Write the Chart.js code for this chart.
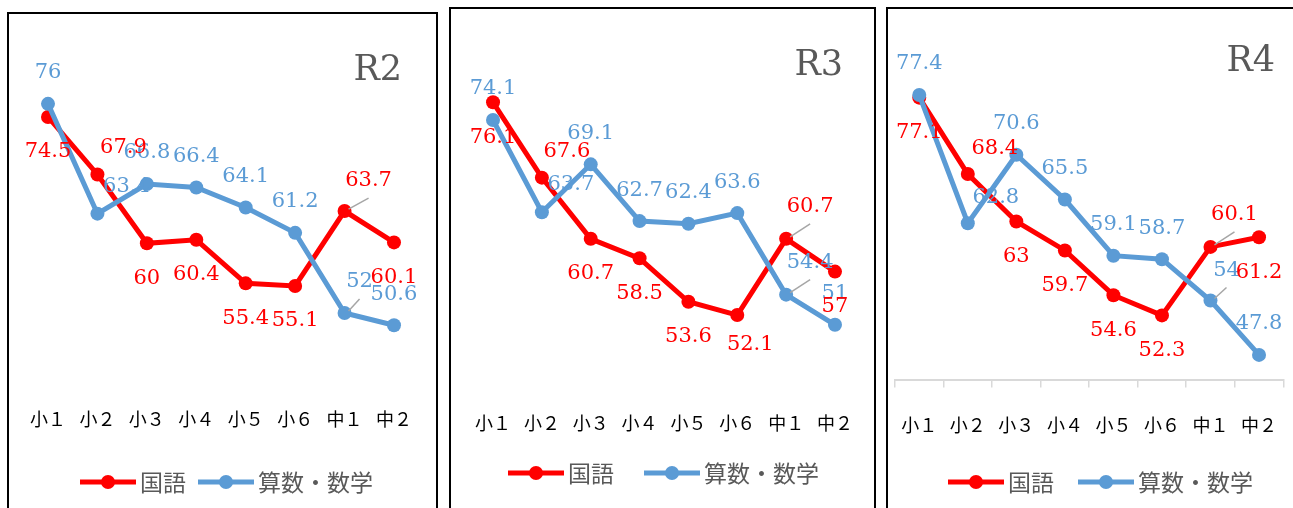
<!DOCTYPE html>
<html>
<head>
<meta charset="utf-8">
<script src="https://cdn.jsdelivr.net/npm/chart.js@4.4.1/dist/chart.umd.min.js"></script>
<style>
  html, body { margin: 0; padding: 0; background: #fff; width: 1293px; height: 508px; overflow: hidden; position: relative; }
  .panel { position: absolute; border: 2px solid #000; box-sizing: border-box; height: 620px; }
  canvas { position: absolute; }
</style>
</head>
<body>
<div class="panel" style="left:7px;top:12px;width:431px"></div>
<div class="panel" style="left:449px;top:7px;width:427px"></div>
<div class="panel" style="left:886px;top:7px;width:440px"></div>
<canvas id="chartR2" width="428" height="494" style="left:9px;top:14px"></canvas>
<canvas id="chartR3" width="423" height="499" style="left:451px;top:9px"></canvas>
<canvas id="chartR4" width="405" height="499" style="left:888px;top:9px"></canvas>
<script>
// grades and scores (R2 / R3 / R4)
const grades = ['小１', '小２', '小３', '小４', '小５', '小６', '中１', '中２'];
const seriesNames = ['国語', '算数・数学'];
const kokugoR2 = [74.5, 67.9, 60, 60.4, 55.4, 55.1, 63.7, 60.1];
const sansuR2 = [76, 63.4, 66.8, 66.4, 64.1, 61.2, 52, 50.6];
const kokugoR3 = [76.1, 67.6, 60.7, 58.5, 53.6, 52.1, 60.7, 57];
const sansuR3 = [74.1, 63.7, 69.1, 62.7, 62.4, 63.6, 54.4, 51];
const kokugoR4 = [77.1, 68.4, 63, 59.7, 54.6, 52.3, 60.1, 61.2];
const sansuR4 = [77.4, 62.8, 70.6, 65.5, 59.1, 58.7, 54, 47.8];
const yMin = 45;
const yMax = 80;

const RED = '#ff0000';
const BLUE = '#5b9bd5';
const GREY_TEXT = '#595959';

// value labels, Excel style: red below, blue above, a few moved by hand
function valueLabels(setup) {
  return {
    id: 'valueLabels',
    afterDatasetsDraw(chart) {
      const ctx = chart.ctx;
      ctx.save();
      ctx.font = '21px "DejaVu Serif"';
      ctx.textAlign = 'center';
      ctx.textBaseline = 'middle';
      [1, 0].forEach(di => {
        const ds = chart.data.datasets[di];
        const meta = chart.getDatasetMeta(di);
        const base = di === 0 ? [0, 35] : [0, -31];
        const moved = setup.shifts[di];
        meta.data.forEach((pt, i) => {
          const s = moved[i] || base;
          const lx = pt.x + s[0];
          const ly = pt.y + s[1];
          if (setup.leaders[di] === i) {
            ctx.strokeStyle = '#a6a6a6';
            ctx.lineWidth = 1.5;
            ctx.beginPath();
            ctx.moveTo(pt.x + 4, pt.y - 2);
            ctx.lineTo(lx, ly + 17);
            ctx.stroke();
          }
          ctx.fillStyle = ds.borderColor;
          ctx.fillText(String(ds.data[i]), lx, ly);
        });
      });
      ctx.restore();
    }
  };
}

// panel title + legend (line with marker)
function panelDecor(d) {
  return {
    id: 'panelDecor',
    afterDraw(chart) {
      const ctx = chart.ctx;
      ctx.save();
      ctx.fillStyle = GREY_TEXT;
      ctx.font = '35px "DejaVu Serif"';
      ctx.textAlign = 'right';
      ctx.textBaseline = 'alphabetic';
      ctx.fillText(d.title, d.titleX, d.titleY);

      let x = d.legendX;
      const y = d.legendY;
      ctx.font = '23px "Noto Sans CJK JP"';
      ctx.textAlign = 'left';
      ctx.textBaseline = 'middle';
      chart.data.datasets.forEach(ds => {
        ctx.strokeStyle = ds.borderColor;
        ctx.lineWidth = 5;
        ctx.beginPath();
        ctx.moveTo(x, y);
        ctx.lineTo(x + 56, y);
        ctx.stroke();
        ctx.fillStyle = ds.borderColor;
        ctx.beginPath();
        ctx.arc(x + 28, y, 7, 0, Math.PI * 2);
        ctx.fill();
        ctx.fillStyle = GREY_TEXT;
        ctx.fillText(ds.label, x + 60, y);
        x += 60 + ctx.measureText(ds.label).width + d.legendGap;
      });
      ctx.restore();
    }
  };
}

function makeChart(id, kokugo, sansu, setup) {
  const ctx = document.getElementById(id).getContext('2d');
  return new Chart(ctx, {
    type: 'line',
    data: {
      labels: grades,
      datasets: [
        {
          label: seriesNames[0],
          data: kokugo,
          borderColor: RED,
          backgroundColor: RED,
          pointBackgroundColor: RED,
          pointBorderColor: RED,
          borderWidth: 5,
          pointRadius: 7,
          pointBorderWidth: 0,
          tension: 0,
          order: 1
        },
        {
          label: seriesNames[1],
          data: sansu,
          borderColor: BLUE,
          backgroundColor: BLUE,
          pointBackgroundColor: BLUE,
          pointBorderColor: BLUE,
          borderWidth: 5,
          pointRadius: 7,
          pointBorderWidth: 0,
          tension: 0,
          order: 0
        }
      ]
    },
    options: {
      responsive: false,
      animation: false,
      events: [],
      layout: { padding: setup.padding },
      plugins: {
        legend: { display: false },
        tooltip: { enabled: false }
      },
      scales: {
        x: {
          offset: true,
          grid: setup.axisLine
            ? { display: true, drawOnChartArea: false, drawTicks: true, tickLength: 8, color: '#d9d9d9', lineWidth: 1.5, offset: true }
            : { display: false, drawTicks: false },
          border: { display: setup.axisLine, color: '#d9d9d9', width: 2 },
          ticks: {
            color: '#000',
            padding: 0,
            maxRotation: 0,
            autoSkip: false,
            font: { family: '"Noto Sans CJK JP"', size: 18, lineHeight: setup.tickLine }
          },
          afterFit(scale) { scale.height = setup.axisHeight; }
        },
        y: { display: false, min: yMin, max: yMax }
      }
    },
    plugins: [valueLabels(setup), panelDecor(setup.decor)]
  });
}

makeChart('chartR2', kokugoR2, sansuR2, {
  padding: { left: 14.3, right: 18.3, top: 55, bottom: 0 },
  axisHeight: 134,
  tickLine: '90px',
  axisLine: false,
  shifts: [{ 1: [26, -27], 6: [24, -30] }, { 1: [29, -27], 6: [15, -31] }],
  leaders: [6, 6],
  decor: { title: 'R2', titleX: 393, titleY: 66, legendX: 71, legendY: 468, legendGap: 12 }
});

makeChart('chartR3', kokugoR3, sansuR3, {
  padding: { left: 17.6, right: 14.6, top: 58.7, bottom: 0 },
  axisHeight: 130,
  tickLine: '90px',
  axisLine: false,
  shifts: [{ 1: [25, -26], 5: [13, 29], 6: [24, -32] }, { 1: [29, -28], 6: [24, -32] }],
  leaders: [6, 6],
  decor: { title: 'R3', titleX: 392, titleY: 66, legendX: 57, legendY: 464, legendGap: 30 }
});

makeChart('chartR4', kokugoR4, sansuR4, {
  padding: { left: 6.7, right: 9.7, top: 63.2, bottom: 0 },
  axisHeight: 128.5,
  tickLine: '75px',
  axisLine: true,
  shifts: [{ 1: [27, -26], 6: [24, -32] }, { 1: [28, -26], 6: [16, -30] }],
  leaders: [6, 6],
  decor: { title: 'R4', titleX: 387, titleY: 62, legendX: 60, legendY: 473, legendGap: 24 }
});
</script>
</body>
</html>
